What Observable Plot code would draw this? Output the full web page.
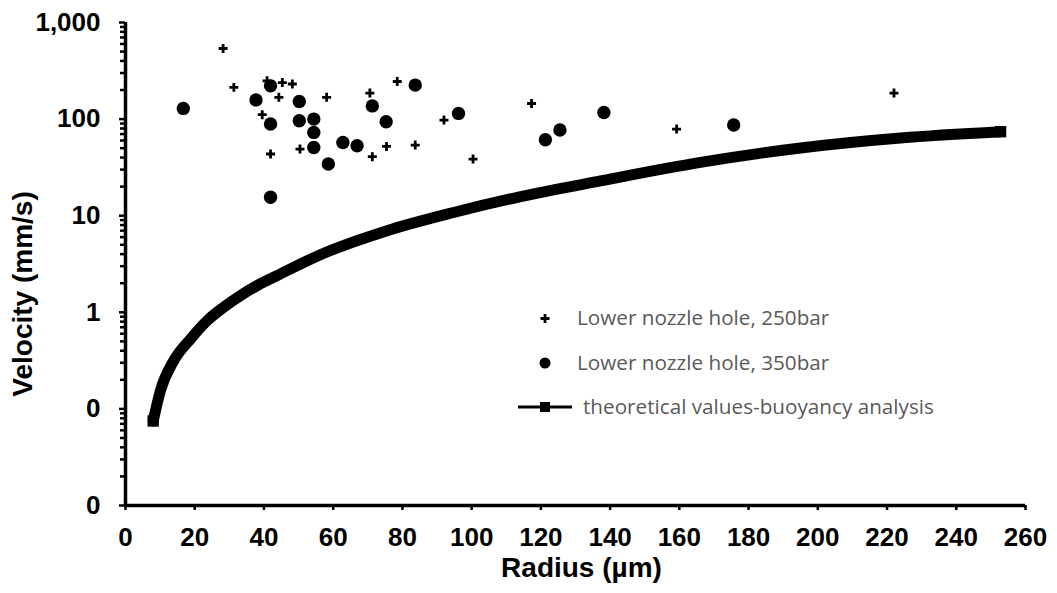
<!DOCTYPE html>
<html>
<head>
<meta charset="utf-8">
<script src="https://cdn.jsdelivr.net/npm/d3@7"></script>
<script src="https://cdn.jsdelivr.net/npm/@observablehq/plot@0.6"></script>
<style>
  html, body { margin: 0; padding: 0; background: #fff; }
  #wrap { position: relative; width: 1057px; height: 593px; }
  #legend { position: absolute; left: 0; top: 0; pointer-events: none; }
</style>
</head>
<body>
<div id="wrap"></div>
<script>
// ---- data ----
const radius250 = [28.2, 31.3, 40.9, 45.3, 48.2, 44.3, 58.1, 39.5, 41.9, 50.4, 70.6, 78.5, 71.3, 75.4, 83.7, 92.0, 100.4, 117.3, 159.2, 222.0];
const velocity250 = [538, 213, 249, 239, 231, 168, 168, 111, 43.5, 49.0, 186, 245, 40.8, 52.1, 53.9, 97.8, 38.6, 145, 78.9, 186];

const radius350 = [16.7, 37.7, 41.9, 41.9, 41.9, 50.2, 50.2, 54.4, 54.4, 54.4, 58.6, 62.8, 66.9, 71.3, 75.3, 83.7, 96.2, 121.3, 125.5, 138.2, 175.7];
const velocity350 = [129, 158, 221, 88.9, 15.5, 152, 96.2, 100, 72.8, 50.9, 34.3, 57.3, 53.0, 137, 93.9, 225, 114.5, 61.1, 77.1, 117, 86.8];

const radiusTheory = [8.0, 10.1, 13.95, 18.8, 23.6, 28.4, 33.2, 38.0, 44.8, 56.3, 75.6, 94.8, 113.2, 137.2, 166.1, 195.0, 223.9, 252.8];
const velocityTheory = [0.075, 0.155, 0.316, 0.53, 0.82, 1.13, 1.49, 1.89, 2.50, 3.95, 7.0, 10.8, 15.5, 22.9, 35.6, 50.2, 63.7, 74.0];

const xTicks = [0, 20, 40, 60, 80, 100, 120, 140, 160, 180, 200, 220, 240, 260];
const yTicks = [0.01, 0.1, 1, 10, 100, 1000];
const seriesNames = ["Lower nozzle hole, 250bar", "Lower nozzle hole, 350bar", "theoretical values-buoyancy analysis"];
const xTitle = "Radius (µm)";
const yTitle = "Velocity (mm/s)";

// ---- tables ----
const s250 = radius250.map((r, i) => ({r, v: velocity250[i]}));
const s350 = radius350.map((r, i) => ({r, v: velocity350[i]}));
const theory = radiusTheory.map((r, i) => ({r, v: velocityTheory[i]}));
const minorTicks = [];
for (let i = 0; i < yTicks.length - 1; i++) for (let m = 2; m <= 9; m++) minorTicks.push(yTicks[i] * m);
const fmtY = d3.format(",.0f");

const chart = Plot.plot({
  width: 1057,
  height: 593,
  marginLeft: 125,
  marginRight: 32,
  marginTop: 22,
  marginBottom: 88,
  style: {fontFamily: "'Liberation Sans', Arial, sans-serif", fontSize: "26px", fontWeight: "bold", color: "#000", background: "#fff"},
  x: {domain: [0, 260], label: null},
  y: {type: "log", domain: [0.01, 1000], label: null},
  marks: [
    Plot.axisY(minorTicks, {tickSize: 5, tickFormat: () => "", strokeWidth: 2.5}),
    Plot.axisY(yTicks, {tickSize: 6, tickPadding: 19, tickFormat: fmtY, strokeWidth: 2.5, fontSize: 26, label: null}),
    Plot.axisX(xTicks, {tickSize: 5, tickPadding: 17, strokeWidth: 2.5, fontSize: 26, label: null}),
    Plot.ruleX([0], {strokeWidth: 3.5}),
    Plot.ruleY([0.01], {strokeWidth: 3.5}),
    Plot.line(theory, {x: "r", y: "v", stroke: "black", strokeWidth: 11, curve: "monotone-x"}),
    Plot.dot(theory.filter((d, i) => i === 0 || i === theory.length - 1), {x: "r", y: "v", symbol: "square", r: 6.4, fill: "black"}),
    Plot.dot(s350, {x: "r", y: "v", r: 6.7, fill: "black"}),
    Plot.dot(s250, {x: "r", y: "v", symbol: "plus", r: 3, stroke: "black", strokeWidth: 2.8}),
    Plot.text([xTitle], {frameAnchor: "bottom", textAnchor: "middle", dx: 6, dy: 71, fontSize: 28, fontWeight: "bold"}),
    Plot.text([yTitle], {frameAnchor: "left", textAnchor: "middle", rotate: -90, dx: -102, dy: 30, fontSize: 28, fontWeight: "bold"})
  ]
});

const wrap = document.getElementById("wrap");
wrap.appendChild(chart);

// ---- legend overlay ----
const lg = d3.select(wrap).append("svg")
  .attr("id", "legend").attr("width", 1057).attr("height", 593);
const rows = [
  {sym: "plus", cy: 318.5, tx: 577, ty: 325},
  {sym: "circle", cy: 363, tx: 577, ty: 370},
  {sym: "line", cy: 407, tx: 583, ty: 413.5}
];
rows.forEach((row, i) => {
  const g = lg.append("g");
  if (row.sym === "plus") {
    g.append("path").attr("d", d3.symbol(d3.symbolPlus, Math.PI * 3 * 3)())
      .attr("transform", `translate(545,${row.cy})`).attr("stroke", "black").attr("stroke-width", 2.8).attr("fill", "none");
  } else if (row.sym === "circle") {
    g.append("circle").attr("cx", 545).attr("cy", row.cy).attr("r", 5.5).attr("fill", "black");
  } else {
    g.append("line").attr("x1", 518).attr("x2", 572).attr("y1", row.cy).attr("y2", row.cy).attr("stroke", "black").attr("stroke-width", 3.2);
    g.append("rect").attr("x", 540).attr("y", row.cy - 5).attr("width", 10).attr("height", 10).attr("fill", "black");
  }
  g.append("text").attr("x", row.tx).attr("y", row.ty)
    .attr("font-family", "'Open Sans', sans-serif").attr("font-size", 20.7).attr("fill", "#595959")
    .text(seriesNames[i]);
});
</script>
</body>
</html>
